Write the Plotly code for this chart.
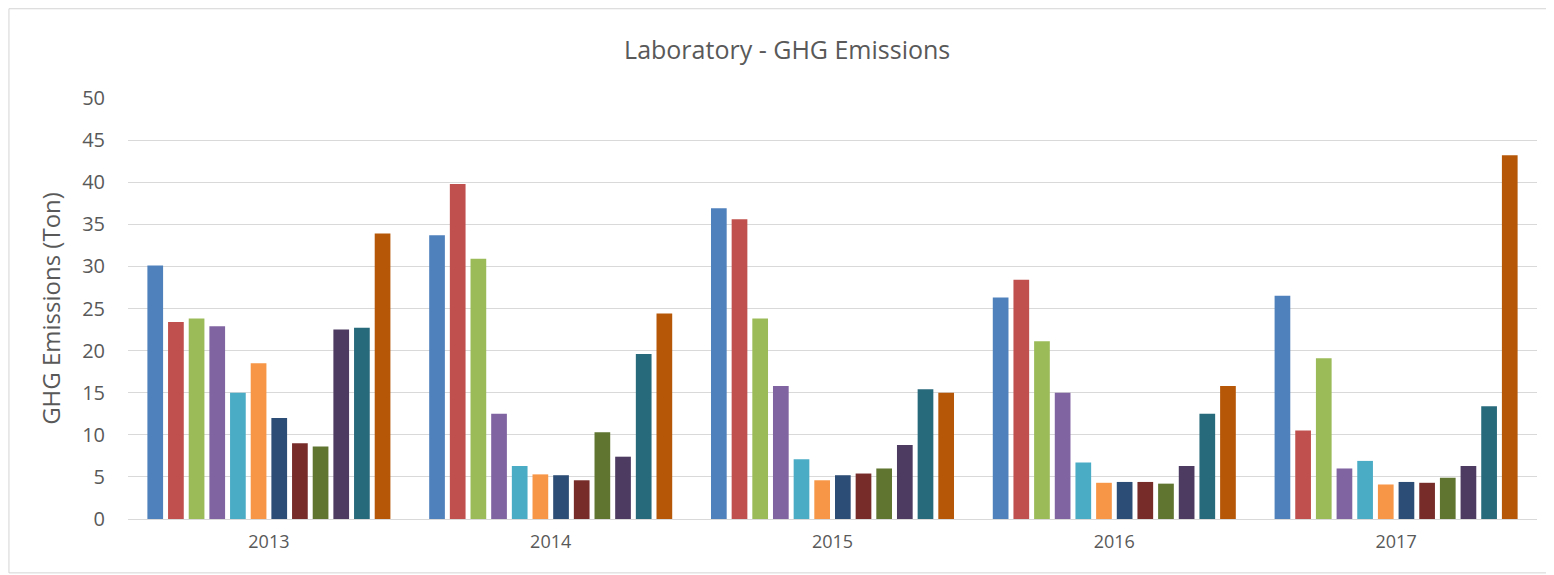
import plotly.graph_objects as go

years = ["2013", "2014", "2015", "2016", "2017"]
series_names = ["Jan", "Feb", "Mar", "Apr", "May", "Jun",
                "Jul", "Aug", "Sep", "Oct", "Nov", "Dec"]
colors = ["#4F81BD", "#C0504D", "#9BBB59", "#8064A2", "#4BACC6", "#F79646",
          "#2C4D75", "#772C2A", "#5F7530", "#4D3B62", "#276A7C", "#B65708"]

v2013 = [30.1, 23.4, 23.8, 22.9, 15.0, 18.5, 12.0, 9.0, 8.6, 22.5, 22.7, 33.9]
v2014 = [33.7, 39.8, 30.9, 12.5, 6.3, 5.3, 5.2, 4.6, 10.3, 7.4, 19.6, 24.4]
v2015 = [36.9, 35.6, 23.8, 15.8, 7.1, 4.6, 5.2, 5.4, 6.0, 8.8, 15.4, 15.0]
v2016 = [26.3, 28.4, 21.1, 15.0, 6.7, 4.3, 4.4, 4.4, 4.2, 6.3, 12.5, 15.8]
v2017 = [26.5, 10.5, 19.1, 6.0, 6.9, 4.1, 4.4, 4.3, 4.9, 6.3, 13.4, 43.2]

by_year = [v2013, v2014, v2015, v2016, v2017]

fig = go.Figure()
for i, name in enumerate(series_names):
    fig.add_trace(go.Bar(
        x=years,
        y=[yr[i] for yr in by_year],
        name=name,
        marker=dict(color=colors[i], line=dict(width=0)),
    ))

font_family = "Open Sans, Noto Sans, sans-serif"
fig.update_layout(
    width=1546, height=567,
    barmode="group",
    bargap=0.12,
    bargroupgap=0.24,
    showlegend=False,
    plot_bgcolor="white",
    paper_bgcolor="white",
    margin=dict(l=120, r=17, t=90, b=56),
    title=dict(text="Laboratory - GHG Emissions", x=0.504, xanchor="center",
               y=0.926, yref="container", yanchor="middle",
               font=dict(family=font_family, size=25, color="#595959")),
    font=dict(family=font_family, color="#595959"),
    xaxis=dict(tickfont=dict(size=18, color="#595959"), showgrid=False,
               showline=True, linecolor="#D9D9D9", ticks="",
               ticklabelstandoff=6),
    yaxis=dict(range=[0, 50], tick0=0, dtick=5,
               tickfont=dict(size=20, color="#595959"),
               gridcolor="#D9D9D9", gridwidth=1, zeroline=False,
               showline=False, ticks="", ticklabelstandoff=22,
               title=dict(text="GHG Emissions (Ton)",
                          font=dict(size=24, color="#595959"),
                          standoff=14)),
    shapes=[dict(type="rect", xref="paper", yref="paper",
                 x0=-0.0845, x1=1.02, y0=-0.128, y1=1.212,
                 line=dict(color="#D4D4D4", width=1), fillcolor="rgba(0,0,0,0)")],
)
fig.write_html("out.html")
